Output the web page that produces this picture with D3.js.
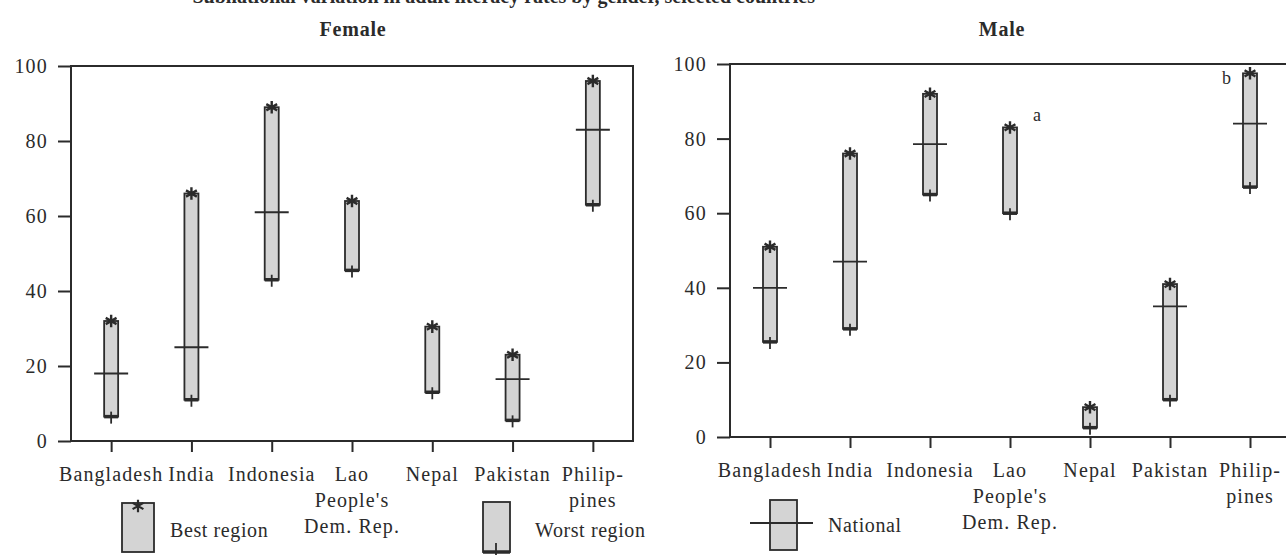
<!DOCTYPE html>
<html lang="en">
<head>
<meta charset="utf-8">
<title>Literacy by region</title>
<script type="text/javascript" src="https://cdn.jsdelivr.net/npm/d3@7"></script>
<style type="text/css">
	body { margin: 0; background: #fff; }
	svg text { font-family: "Liberation Serif", "DejaVu Serif", serif; fill: #2b2b2b; }
</style>
</head>
<body>
<script type="text/javascript">

	//Data (percent literate)
	var countries = ["Bangladesh", "India", "Indonesia", "Lao People's Dem. Rep.", "Nepal", "Pakistan", "Philippines"];
	var labelLines = [["Bangladesh"], ["India"], ["Indonesia"], ["Lao", "People's", "Dem. Rep."], ["Nepal"], ["Pakistan"], ["Philip-", "pines"]];

	var femaleBest     = [32, 66, 89, 64, 30.5, 23, 96];
	var femaleWorst    = [6.5, 11, 43, 45.5, 13, 5.5, 63];
	var femaleNational = [18, 25, 61, null, null, 16.5, 83];

	var maleBest     = [51, 76, 92, 83, 8, 41, 97.5];
	var maleWorst    = [25.5, 29, 65, 60, 2.5, 10, 67];
	var maleNational = [40, 47, 78.5, null, null, 35, 84];
	var maleNotes    = ["", "", "", "a", "", "", "b"];

	var yTicks = [0, 20, 40, 60, 80, 100];

	var w = 1286;
	var h = 555;
	var ink = "#2b2b2b";
	var barFill = "#d4d4d4";
	var barW = 14;

	var svg = d3.select("body")
				.append("svg")
				.attr("width", w)
				.attr("height", h);

	//Caption line, cut off at the top of the scan
	svg.append("text")
		.text("Subnational variation in adult literacy rates by gender, selected countries")
		.attr("x", 815)
		.attr("y", 3)
		.attr("text-anchor", "end")
		.attr("font-size", 20)
		.attr("font-weight", "bold");

	function drawPanel(p) {
		var x = d3.scalePoint()
				.domain(countries)
				.range([p.left, p.right])
				.padding(0.5);

		var y = d3.scaleLinear()
				.domain([0, 100])
				.range([p.bottom, p.top]);

		var g = svg.append("g");

		//Title
		g.append("text")
			.text(p.title)
			.attr("x", p.titleX)
			.attr("y", 36)
			.attr("text-anchor", "middle")
			.attr("font-size", 20)
			.attr("font-weight", "bold")
			.attr("letter-spacing", 0.8);

		//Frame
		g.append("rect")
			.attr("x", p.left)
			.attr("y", p.top)
			.attr("width", p.right - p.left)
			.attr("height", p.bottom - p.top)
			.attr("fill", "none")
			.attr("stroke", ink)
			.attr("stroke-width", 2);

		//Y axis
		var yAxis = d3.axisLeft(y)
					.tickValues(yTicks)
					.tickSize(13)
					.tickPadding(10);

		var ya = g.append("g")
				.attr("transform", "translate(" + p.left + ",0)")
				.call(yAxis);
		ya.attr("font-size", 20);
		ya.select(".domain").remove();
		ya.selectAll("line").attr("stroke", ink).attr("stroke-width", 2);
		ya.selectAll("text").attr("letter-spacing", 1.2);

		//X axis ticks
		var xAxis = d3.axisBottom(x)
					.tickSize(11)
					.tickFormat("");

		var xa = g.append("g")
				.attr("transform", "translate(0," + p.bottom + ")")
				.call(xAxis);
		xa.select(".domain").remove();
		xa.selectAll("line").attr("stroke", ink).attr("stroke-width", 2);

		//Category labels, several lines each
		var lab = g.selectAll(".catlabel")
			.data(countries)
			.enter()
			.append("text")
			.attr("class", "catlabel")
			.attr("text-anchor", "middle")
			.attr("font-size", 20)
			.attr("letter-spacing", 1.1)
			.attr("x", function(d) { return x(d); })
			.attr("y", p.labelY);

		lab.each(function(d, i) {
			var t = d3.select(this);
			labelLines[i].forEach(function(line, k) {
				t.append("tspan")
					.attr("x", x(d))
					.attr("y", p.labelY + k * 26)
					.text(line);
			});
		});

		//Range bars (worst region to best region)
		g.selectAll(".bar")
			.data(countries)
			.enter()
			.append("rect")
			.attr("class", "bar")
			.attr("x", function(d) { return x(d) - barW / 2; })
			.attr("y", function(d, i) { return y(p.best[i]); })
			.attr("width", barW)
			.attr("height", function(d, i) { return y(p.worst[i]) - y(p.best[i]); })
			.attr("fill", barFill)
			.attr("stroke", ink)
			.attr("stroke-width", 1.8);

		//Worst region marks
		g.selectAll(".worst")
			.data(countries)
			.enter()
			.append("path")
			.attr("class", "worst")
			.attr("d", function(d, i) {
				var cx = x(d), cy = y(p.worst[i]);
				return "M" + (cx - barW / 2) + "," + cy + "H" + (cx + barW / 2);
			})
			.attr("stroke", ink)
			.attr("stroke-width", 3.5);

		g.selectAll(".worstTick")
			.data(countries)
			.enter()
			.append("line")
			.attr("class", "worstTick")
			.attr("x1", function(d) { return x(d); })
			.attr("x2", function(d) { return x(d); })
			.attr("y1", function(d, i) { return y(p.worst[i]) - 5; })
			.attr("y2", function(d, i) { return y(p.worst[i]) + 7; })
			.attr("stroke", ink)
			.attr("stroke-width", 1.8);

		//Best region asterisks
		g.selectAll(".best")
			.data(countries)
			.enter()
			.append("path")
			.attr("class", "best")
			.attr("d", d3.symbol(d3.symbolAsterisk, 110))
			.attr("transform", function(d, i) {
				return "translate(" + x(d) + "," + y(p.best[i]) + ")";
			})
			.attr("fill", "none")
			.attr("stroke", ink)
			.attr("stroke-width", 2.4);

		//National level
		var nat = countries.filter(function(d, i) { return p.national[i] != null; });
		g.selectAll(".national")
			.data(nat)
			.enter()
			.append("line")
			.attr("class", "national")
			.attr("x1", function(d) { return x(d) - 17; })
			.attr("x2", function(d) { return x(d) + 17; })
			.attr("y1", function(d) { return y(p.national[countries.indexOf(d)]); })
			.attr("y2", function(d) { return y(p.national[countries.indexOf(d)]); })
			.attr("stroke", ink)
			.attr("stroke-width", 1.8);

		//Footnote letters
		if (p.notes) {
			g.selectAll(".note")
				.data(countries)
				.enter()
				.append("text")
				.attr("class", "note")
				.text(function(d, i) { return p.notes[i]; })
				.attr("x", function(d, i) { return i == 6 ? x(d) - 28 : x(d) + 23; })
				.attr("y", function(d, i) { return y(p.best[i]) + (i == 6 ? 11 : -6); })
				.attr("font-size", 18);
		}
	}

	drawPanel({
		title: "Female", titleX: 353,
		left: 71, right: 633, top: 66, bottom: 441, labelY: 481,
		best: femaleBest, worst: femaleWorst, national: femaleNational
	});

	drawPanel({
		title: "Male", titleX: 1002,
		left: 730, right: 1290, top: 64, bottom: 437, labelY: 477,
		best: maleBest, worst: maleWorst, national: maleNational, notes: maleNotes
	});

	//Legend
	var leg = svg.append("g");

	//Best region key
	leg.append("rect")
		.attr("x", 122).attr("y", 503)
		.attr("width", 32).attr("height", 49)
		.attr("fill", barFill).attr("stroke", ink).attr("stroke-width", 1.8);
	leg.append("path")
		.attr("d", d3.symbol(d3.symbolAsterisk, 110))
		.attr("transform", "translate(138,506)")
		.attr("fill", "none").attr("stroke", ink).attr("stroke-width", 2.2);
	leg.append("text")
		.text("Best region")
		.attr("x", 170).attr("y", 537)
		.attr("font-size", 20).attr("letter-spacing", 0.6);

	//Worst region key
	leg.append("rect")
		.attr("x", 483).attr("y", 502)
		.attr("width", 27).attr("height", 50)
		.attr("fill", barFill).attr("stroke", ink).attr("stroke-width", 1.8);
	leg.append("line")
		.attr("x1", 483).attr("x2", 510).attr("y1", 552).attr("y2", 552)
		.attr("stroke", ink).attr("stroke-width", 3.5);
	leg.append("line")
		.attr("x1", 496).attr("x2", 496).attr("y1", 543).attr("y2", 559)
		.attr("stroke", ink).attr("stroke-width", 1.8);
	leg.append("text")
		.text("Worst region")
		.attr("x", 535).attr("y", 537)
		.attr("font-size", 20).attr("letter-spacing", 0.6);

	//National key
	leg.append("rect")
		.attr("x", 770).attr("y", 500)
		.attr("width", 27).attr("height", 50)
		.attr("fill", barFill).attr("stroke", ink).attr("stroke-width", 1.8);
	leg.append("line")
		.attr("x1", 750).attr("x2", 813).attr("y1", 523).attr("y2", 523)
		.attr("stroke", ink).attr("stroke-width", 1.8);
	leg.append("text")
		.text("National")
		.attr("x", 828).attr("y", 532)
		.attr("font-size", 20).attr("letter-spacing", 0.6);

</script>
</body>
</html>
